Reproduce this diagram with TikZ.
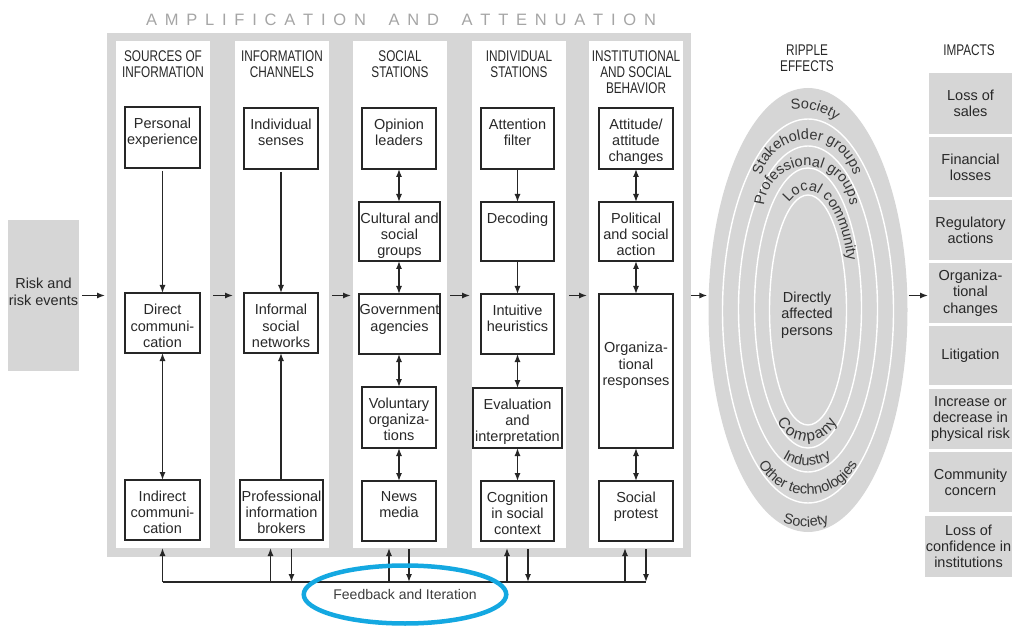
\documentclass[tikz,border=0pt]{standalone}
\usepackage{fontspec}
\setmainfont{Liberation Sans}
\newfontfamily\hdrfont[FakeStretch=0.76]{Liberation Sans}
\usetikzlibrary{arrows.meta,shapes.geometric,decorations.text}
\definecolor{boxgray}{RGB}{214,214,214}
\definecolor{txtc}{RGB}{40,40,40}
\definecolor{ttlc}{RGB}{165,165,165}
\definecolor{ripc}{RGB}{55,55,55}
\definecolor{fbblue}{RGB}{20,168,225}
\newcommand\boxfont{\fontsize{14.5pt}{16.3pt}\selectfont}
\newcommand\hdrf{\hdrfont\fontsize{15.5pt}{15.8pt}\selectfont}
\newcommand\ripf{\fontsize{14.5pt}{14.5pt}\selectfont}
\newcommand\ripF{\fontsize{15.5pt}{15.5pt}\selectfont}
\tikzset{
  graybox/.style={fill=boxgray, draw=none, inner sep=0pt, outer sep=0pt, rectangle},
  colbox/.style={fill=white, draw=none, inner sep=0pt, outer sep=0pt, rectangle},
  stbox/.style={draw=black!85, line width=1.3pt, fill=white, inner sep=0pt, outer sep=0pt, rectangle},
  stxt/.style={inner sep=0pt, align=center, font=\boxfont, text=txtc},
  hdr/.style={inner sep=0pt, align=center, font=\hdrf, text=txtc},
  tip/.tip={Latex[length=8pt,width=6pt]},
  arr/.style={line width=1.3pt, draw=black!85, -tip},
  darr/.style={line width=1.3pt, draw=black!85, tip-tip},
  fline/.style={line width=1.3pt, draw=black!85},
  ring/.style={ellipse, draw=white, line width=1.4pt, inner sep=0pt},
  imp/.style={graybox, align=center, font=\boxfont, text=txtc, anchor=north west},
}
\newcommand\stn[7]{%
  \node[stbox, anchor=north west, minimum width=#4pt, minimum height=#5pt] (#1) at (#2,#3) {};
  \node[stxt, anchor=north] (#1t) at ([yshift=-#6pt]#1.north) {#7};}
% curved label: cx, cy, rx, ry, start, end, align, font, text
\newcommand\ripL[9]{%
  \path (#1,#2) ++(#5:#3pt and #4pt) coordinate (lbstart);
  \path[decorate, decoration={text along path, text align=#7, text color=ripc, text={|#8|#9}}]
    (lbstart) arc[start angle=#5, end angle=#6, x radius=#3pt, y radius=#4pt];}
\begin{document}
\begin{tikzpicture}[x=1pt, y=-1pt]
\useasboundingbox (0,0) rectangle (1012,628);
% title
\node[inner sep=0pt, text=ttlc, font=\fontsize{16.5pt}{16.5pt}\selectfont] (ttl) at (401,20)
  {\makebox[510pt][s]{A\hfill M\hfill P\hfill L\hfill I\hfill F\hfill I\hfill C\hfill A\hfill T\hfill I\hfill O\hfill N\hfill\hspace{7pt}\hfill A\hfill N\hfill D\hfill\hspace{7pt}\hfill A\hfill T\hfill T\hfill E\hfill N\hfill U\hfill A\hfill T\hfill I\hfill O\hfill N}};
% main gray box and columns
\node[graybox, anchor=north west, minimum width=584pt, minimum height=524pt] (amp) at (107,33) {};
\node[colbox, anchor=north west, minimum width=94pt, minimum height=507pt] (c1) at (116,41) {};
\node[colbox, anchor=north west, minimum width=94pt, minimum height=507pt] (c2) at (235,41) {};
\node[colbox, anchor=north west, minimum width=94pt, minimum height=507pt] (c3) at (353,41) {};
\node[colbox, anchor=north west, minimum width=94pt, minimum height=507pt] (c4) at (472,41) {};
\node[colbox, anchor=north west, minimum width=94pt, minimum height=507pt] (c5) at (589,41) {};
% headers
\node[hdr, anchor=north] (h1) at ([yshift=-9.5pt]c1.north) {SOURCES OF\\INFORMATION};
\node[hdr, anchor=north] (h2) at ([yshift=-9.5pt]c2.north) {INFORMATION\\CHANNELS};
\node[hdr, anchor=north] (h3) at ([yshift=-9.5pt]c3.north) {SOCIAL\\STATIONS};
\node[hdr, anchor=north] (h4) at ([yshift=-9.5pt]c4.north) {INDIVIDUAL\\STATIONS};
\node[hdr, anchor=north] (h5) at ([yshift=-9.5pt]c5.north) {INSTITUTIONAL\\AND SOCIAL\\BEHAVIOR};
\node[hdr] (hr) at (807,58) {RIPPLE\\EFFECTS};
\node[hdr] (hi) at (969,50) {IMPACTS};
% risk box
\node[graybox, anchor=north west, minimum width=71pt, minimum height=151pt] (risk) at (8,220) {};
\node[stxt, font=\fontsize{14.5pt}{17pt}\selectfont] (riskt) at (43.5,291.5) {Risk and\\risk events};
% column 1
\stn{pe}{125}{107}{75}{61}{10.5}{Personal\\experience}
\stn{dc}{125}{293}{75}{60}{11}{Direct\\communi-\\cation}
\stn{icm}{125}{480}{75}{60}{10.5}{Indirect\\communi-\\cation}
% column 2
\stn{is}{244}{108}{74}{61}{10.5}{Individual\\senses}
\stn{isn}{244}{293}{74}{60}{11}{Informal\\social\\networks}
\stn{pib}{240}{480}{83}{60}{10.5}{Professional\\information\\brokers}
% column 3
\stn{ol}{362}{108}{74}{61}{10.5}{Opinion\\leaders}
\stn{csg}{359}{202}{81}{59}{10.5}{Cultural and\\social\\groups}
\stn{ga}{359}{294}{81}{60}{10.5}{Government\\agencies}
\stn{vo}{362}{387}{74}{61}{10.5}{Voluntary\\organiza-\\tions}
\stn{nm}{362}{481}{74}{60}{10.5}{News\\media}
% column 4
\stn{af}{481}{108}{73}{61}{10.5}{Attention\\filter}
\stn{dec}{481}{202}{73}{59}{10.5}{Decoding}
\stn{ih}{481}{294}{73}{60}{10.5}{Intuitive\\heuristics}
\stn{ei}{473}{388}{89}{60}{10.5}{Evaluation\\and\\interpretation}
\stn{cs}{481}{481}{73}{60}{10.5}{Cognition\\in social\\context}
% column 5
\stn{aac}{599}{108}{74}{61}{10.5}{Attitude/\\attitude\\changes}
\stn{psa}{599}{202}{74}{59}{10.5}{Political\\and social\\action}
\stn{orr}{599}{294}{74}{154}{48}{Organiza-\\tional\\responses}
\stn{sp}{599}{481}{74}{60}{10.5}{Social\\protest}
% vertical connectors
\draw[arr, shorten <=3pt] (pe.south) -- (dc.north);
\draw[darr] (dc.south) -- (icm.north);
\draw[arr, shorten <=3pt] (is.south) -- (isn.north);
\draw[arr] (isn.south |- pib.north) -- (isn.south);
\draw[darr] (ol.south) -- (ol.south |- csg.north);
\draw[darr] (ol.south |- csg.south) -- (ol.south |- ga.north);
\draw[darr] (ol.south |- ga.south) -- (vo.north);
\draw[darr] (vo.south) -- (nm.north);
\draw[arr] (af.south) -- (dec.north);
\draw[arr] (dec.south) -- (ih.north);
\draw[darr] (ih.south) -- (ih.south |- ei.north);
\draw[darr] (ih.south |- ei.south) -- (cs.north);
\draw[darr] (aac.south) -- (psa.north);
\draw[darr] (psa.south) -- (orr.north);
\draw[darr] (orr.south) -- (sp.north);
% horizontal flow arrows
\draw[arr, shorten <=3pt, shorten >=2pt] (risk.east) -- (amp.west |- risk.east);
\draw[arr, shorten <=3pt, shorten >=2pt] (c1.east |- risk.east) -- (c2.west |- risk.east);
\draw[arr, shorten <=3pt, shorten >=2pt] (c2.east |- risk.east) -- (c3.west |- risk.east);
\draw[arr, shorten <=3pt, shorten >=2pt] (c3.east |- risk.east) -- (c4.west |- risk.east);
\draw[arr, shorten <=3pt, shorten >=2pt] (c4.east |- risk.east) -- (c5.west |- risk.east);
% ripple effects
\node[ellipse, fill=boxgray, draw=none, minimum width=199pt, minimum height=444pt, inner sep=0pt] (rip) at (808,310) {};
\node[ring, minimum width=171pt, minimum height=384pt] (r1) at (808,311) {};
\node[ring, minimum width=139pt, minimum height=326pt] (r2) at (808,309) {};
\node[ring, minimum width=107pt, minimum height=280pt] (r3) at (808,308) {};
\node[ring, minimum width=77pt, minimum height=230pt] (r4) at (808,310) {};
\node[stxt] (dap) at (807,315) {Directly\\affected\\persons};
% ring labels (top: clockwise, text outward; bottom: counterclockwise, text inward)
\ripL{800}{165}{56.5}{56.5}{130}{20}{center}{\ripf}{Society}
\ripL{807.5}{187}{47.5}{47.5}{180}{0}{center}{\ripf}{Stakeholder groups}
\ripL{807}{209}{43}{43}{185}{-5}{center}{\ripf}{Professional groups}
\ripL{808}{287}{41}{96}{118}{-40}{left}{\ripf}{Local community}
\path (807,408.5) ++(160:28pt) coordinate (cmpstart);
\path[decorate, decoration={text along path, text align=center, raise=-4.5pt, text color=ripc, text={|\ripF|Company}}]
  (cmpstart) arc[start angle=160, end angle=380, radius=28pt];
\ripL{807}{420}{45.5}{45.5}{180}{360}{center}{\ripf}{Industry}
\ripL{808}{439}{55.5}{55.5}{150}{390}{center}{\ripf}{Other technologies}
\ripL{806}{462}{65}{65}{200}{340}{center}{\ripf}{Society}
% impacts
\node[imp, minimum width=83pt, minimum height=61pt] (i1) at (929,73) {Loss of\\sales};
\node[imp, minimum width=83pt, minimum height=60pt] (i2) at (929,137) {Financial\\losses};
\node[imp, minimum width=83pt, minimum height=60pt] (i3) at (929,200) {Regulatory\\actions};
\node[imp, minimum width=83pt, minimum height=60pt] (i4) at (929,263) {Organiza-\\tional\\changes};
\node[imp, minimum width=83pt, minimum height=59pt] (i5) at (929,326) {Litigation};
\node[imp, minimum width=83pt, minimum height=60pt] (i6) at (929,389) {Increase or\\decrease in\\physical risk};
\node[imp, minimum width=83pt, minimum height=60pt] (i7) at (929,452) {Community\\concern};
\node[imp, minimum width=87pt, minimum height=61pt] (i8) at (925,516) {Loss of\\confidence in\\institutions};
\draw[arr, shorten >=1pt] (amp.east |- risk.east) -- (rip.west |- risk.east);
\draw[arr, shorten <=1pt, shorten >=1pt] (rip.east |- risk.east) -- (i4.west |- risk.east);
% feedback
\coordinate (fbl) at (162.5,582);
\coordinate (fbr) at (646,582);
\draw[fline] (fbl) -- (fbr);
\draw[arr] (icm.south |- fbl) -- (icm.south |- c1.south);
\path (c2.south) ++(-11.5,0) coordinate (u2) ++(21,0) coordinate (d2);
\path (c3.south) ++(-11,0) coordinate (u3) ++(20,0) coordinate (d3);
\path (c4.south) ++(-12,0) coordinate (u4) ++(21,0) coordinate (d4);
\path (c5.south) ++(-11,0) coordinate (u5) ++(21,0) coordinate (d5);
\foreach \k in {2,3,4,5}{
  \draw[arr] (u\k |- fbl) -- (u\k);
  \draw[arr, shorten <=1pt] (d\k) -- (d\k |- fbl);
}
\node[ellipse, draw=fbblue, line width=4.5pt, minimum width=189pt, minimum height=58pt, inner sep=0pt,
  font=\fontsize{14pt}{14pt}\selectfont, text={rgb,255:red,60;green,60;blue,60}] (fb) at (405,594.5) {Feedback and Iteration};
\end{tikzpicture}
\end{document}
